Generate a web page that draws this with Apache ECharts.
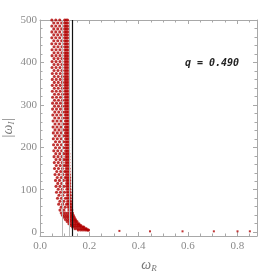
<!DOCTYPE html>
<html>
<head>
<meta charset="utf-8">
<script src="https://cdn.jsdelivr.net/npm/echarts@6/dist/echarts.min.js"></script>
<style>html,body{margin:0;padding:0;background:#fff}#c{width:277px;height:273px}</style>
</head>
<body>
<div id="c"></div>
<script>
// ---- data ----
// each row: [|omega_I|, omega_R values ...]
const latticeRows = [
 [500,.048,.064,.080,.100,.106,.112],
 [493,.056,.072,.088,.100,.106,.112],
 [486,.048,.064,.080,.100,.106,.112],
 [479,.056,.072,.088,.100,.106,.112],
 [472,.048,.064,.080,.100,.106,.112],
 [465,.056,.072,.088,.100,.106,.112],
 [458,.048,.064,.080,.100,.106,.112],
 [451,.056,.072,.088,.100,.106,.112],
 [444,.048,.064,.080,.100,.106,.112],
 [437,.057,.073,.089,.101,.107,.113],
 [430,.049,.065,.081,.101,.107,.113],
 [423,.057,.073,.089,.101,.107,.113],
 [416,.049,.065,.081,.101,.107,.113],
 [409,.057,.073,.089,.101,.107,.113],
 [402,.049,.065,.081,.101,.107,.113],
 [395,.057,.073,.089,.101,.107,.113],
 [388,.049,.065,.081,.101,.107,.113],
 [381,.057,.073,.089,.101,.107,.113],
 [374,.050,.066,.082,.101,.107,.113],
 [367,.058,.074,.090,.101,.107,.113],
 [360,.050,.066,.082,.101,.107,.113],
 [353,.058,.074,.090,.101,.107,.113],
 [346,.050,.066,.082,.101,.107,.113],
 [339,.058,.074,.090,.101,.107,.113],
 [332,.050,.066,.082,.101,.107,.113],
 [325,.059,.075,.091,.102,.108,.114],
 [318,.051,.067,.083,.102,.108,.114],
 [311,.059,.075,.091,.102,.108,.114],
 [304,.051,.067,.083,.102,.108,.114],
 [297,.059,.075,.091,.102,.108,.114],
 [290,.051,.067,.083,.102,.108,.114],
 [283,.060,.076,.092,.102,.108,.114],
 [276,.052,.068,.084,.102,.108,.114],
 [269,.060,.076,.092,.103,.109,.115],
 [262,.053,.069,.085,.103,.109,.115],
 [255,.061,.077,.093,.103,.109,.115],
 [248,.053,.069,.085,.103,.109,.115],
 [241,.061,.077,.093,.103,.109,.115],
 [234,.054,.070,.086,.103,.109,.115],
 [227,.062,.078,.094,.103,.109,.115],
 [220,.054,.070,.086,.104,.110,.116],
 [213,.063,.079,.095,.104,.110,.116],
 [206,.055,.071,.087,.104,.110,.116],
 [199,.063,.079,.095,.104,.110,.116],
 [192,.056,.072,.088,.104,.110,.116],
 [185,.064,.080,.096,.105,.111,.117],
 [178,.057,.073,.089,.105,.111,.117],
 [171,.065,.081,.097,.105,.111,.117],
 [164,.058,.074,.090,.105,.111,.117],
 [157,.066,.082,.098,.105,.111,.117],
 [150,.059,.075,.091,.106,.112,.118],
 [143,.068,.084,.100,.106,.112,.118],
 [136,.061,.077,.093,.107,.113,.119],
 [129,.070,.086,.102,.108,.114,.120],
 [122,.063,.079,.095,.108,.114,.120],
 [115,.072,.088,.108,.114,.120],
 [108,.065,.081,.097,.108,.114,.120],
 [101,.074,.090,.109,.115,.121],
 [94,.067,.083,.099,.110,.116,.122],
 [87,.077,.093,.111,.117,.123],
 [80,.071,.087,.103,.111,.117,.123],
 [73,.081,.097,.112,.118,.124],
 [66,.076,.092,.108,.114,.120,.126],
 [59,.086,.102,.115,.121,.127],
 [52,.081,.097,.117,.123,.129]
];
const tailRows = [
 [45,.086,.095,.104,.113,.121,.127,.132],
 [40,.091,.100,.109,.117,.124,.130,.135],
 [35,.097,.106,.114,.121,.128,.134,.139],
 [30,.103,.112,.120,.127,.134,.140,.144],
 [25,.110,.119,.127,.134,.141,.146,.150],
 [20,.117,.126,.134,.141,.148,.154,.158],
 [16,.124,.133,.141,.149,.156,.162,.166],
 [12,.132,.142,.151,.160,.168,.174,.178],
 [8,.142,.152,.162,.171,.179,.185,.188],
 [5,.155,.165,.174,.183,.190,.195,.197]
];
const isolatedModes = [[0.322,3],[0.446,2],[0.578,2],[0.705,2],[0.801,2],[0.851,2]];
const grayLines = [0.087, 0.118];
const blackLines = [0.128];
const xTicks = [0, 0.2, 0.4, 0.6, 0.8];
const xMinorTicks = [0.05,0.1,0.15,0.25,0.3,0.35,0.45,0.5,0.55,0.65,0.7,0.75,0.85];
const yTicks = [0, 100, 200, 300, 400, 500];
const yMinorTicks = [20,40,60,80,120,140,160,180,220,240,260,280,320,340,360,380,420,440,460,480];
const qLabel = 'q = 0.490';

// ---- chart ----
const toPts = rows => rows.flatMap(r => r.slice(1).map(x => [x, r[0]]));
const XMIN = 0, XMAX = 0.88, YMIN = -9, YMAX = 500;
const frame = '#a8a8a8';
const labelStyle = {color:'#8a8a8a', fontFamily:'Liberation Serif', fontSize:11};

function xAx(pos, ticks, len, withLine, withLabels){
  return {type:'value', position:pos, min:XMIN, max:XMAX,
    axisLine:{show:withLine, onZero:false, lineStyle:{color:frame, width:1}},
    axisTick:{show:true, inside:true, length:len, customValues:ticks, lineStyle:{color:frame}},
    axisLabel: withLabels ? Object.assign({show:true, customValues:ticks, margin:5, formatter:v=>v.toFixed(1)}, labelStyle) : {show:false},
    splitLine:{show:false}, minorTick:{show:false}};
}
function yAx(pos, ticks, len, withLine, withLabels){
  return {type:'value', position:pos, min:YMIN, max:YMAX,
    axisLine:{show:withLine, onZero:false, lineStyle:{color:frame, width:1}},
    axisTick:{show:true, inside:true, length:len, customValues:ticks, lineStyle:{color:frame}},
    axisLabel: withLabels ? Object.assign({show:true, customValues:ticks, margin:3, formatter:v=>String(v)}, labelStyle) : {show:false},
    splitLine:{show:false}, minorTick:{show:false}};
}

const red = '#b00000';
const chart = echarts.init(document.getElementById('c'), null, {renderer:'canvas'});
chart.setOption({
  animation:false,
  backgroundColor:'#fff',
  grid:{left:40, right:20, top:20, bottom:37, containLabel:false},
  xAxis:[xAx('bottom', xTicks, 4, true, true), xAx('bottom', xMinorTicks, 2.5, false, false),
         xAx('top', xTicks, 4, true, false), xAx('top', xMinorTicks, 2.5, false, false)],
  yAxis:[yAx('left', yTicks, 4, true, true), yAx('left', yMinorTicks, 2.5, false, false),
         yAx('right', yTicks, 4, true, false), yAx('right', yMinorTicks, 2.5, false, false)],
  series:[
    {type:'scatter', xAxisIndex:0, yAxisIndex:0, symbol:'circle', symbolSize:3.1,
     itemStyle:{color:red}, data:toPts(latticeRows), z:2},
    {type:'scatter', xAxisIndex:0, yAxisIndex:0, symbol:'circle', symbolSize:3,
     itemStyle:{color:red}, data:toPts(tailRows), z:2},
    {type:'scatter', xAxisIndex:0, yAxisIndex:0, symbol:'rect', symbolSize:2,
     itemStyle:{color:red}, data:isolatedModes, z:2},
    {type:'scatter', xAxisIndex:0, yAxisIndex:0, data:[], z:1,
     markLine:{silent:true, symbol:['none','none'], label:{show:false},
       lineStyle:{color:'#b8b8b8', width:1, type:'solid'},
       data:grayLines.map(v=>({xAxis:v}))}},
    {type:'scatter', xAxisIndex:0, yAxisIndex:0, data:[], z:5,
     markLine:{silent:true, symbol:['none','none'], label:{show:false},
       lineStyle:{color:'#111', width:1.2, type:'solid'},
       data:blackLines.map(v=>({xAxis:v}))}}
  ],
  graphic:[
    {type:'text', x:212, y:63, z:10, style:{text:qLabel, font:'italic bold 10px "DejaVu Sans Mono"', fill:'#222', align:'center', verticalAlign:'middle'}},
    {type:'text', x:149, y:265, z:10, style:{text:'{m|ω}{s|R}', align:'center', verticalAlign:'middle',
      rich:{m:{fontFamily:'Liberation Serif', fontStyle:'italic', fontSize:14, fill:'#777', lineHeight:16, verticalAlign:'middle'},
            s:{fontFamily:'Liberation Serif', fontStyle:'italic', fontSize:9, fill:'#777', lineHeight:9, verticalAlign:'bottom'}}}},
    {type:'text', x:8, y:128, rotation:Math.PI/2, z:10, style:{text:'{m||ω}{s|I}{m||}', align:'center', verticalAlign:'middle',
      rich:{m:{fontFamily:'Liberation Serif', fontStyle:'italic', fontSize:14, fill:'#777', lineHeight:16, verticalAlign:'middle'},
            s:{fontFamily:'Liberation Serif', fontStyle:'italic', fontSize:9, fill:'#777', lineHeight:9, verticalAlign:'bottom'}}}}
  ]
});
</script>
</body>
</html>
